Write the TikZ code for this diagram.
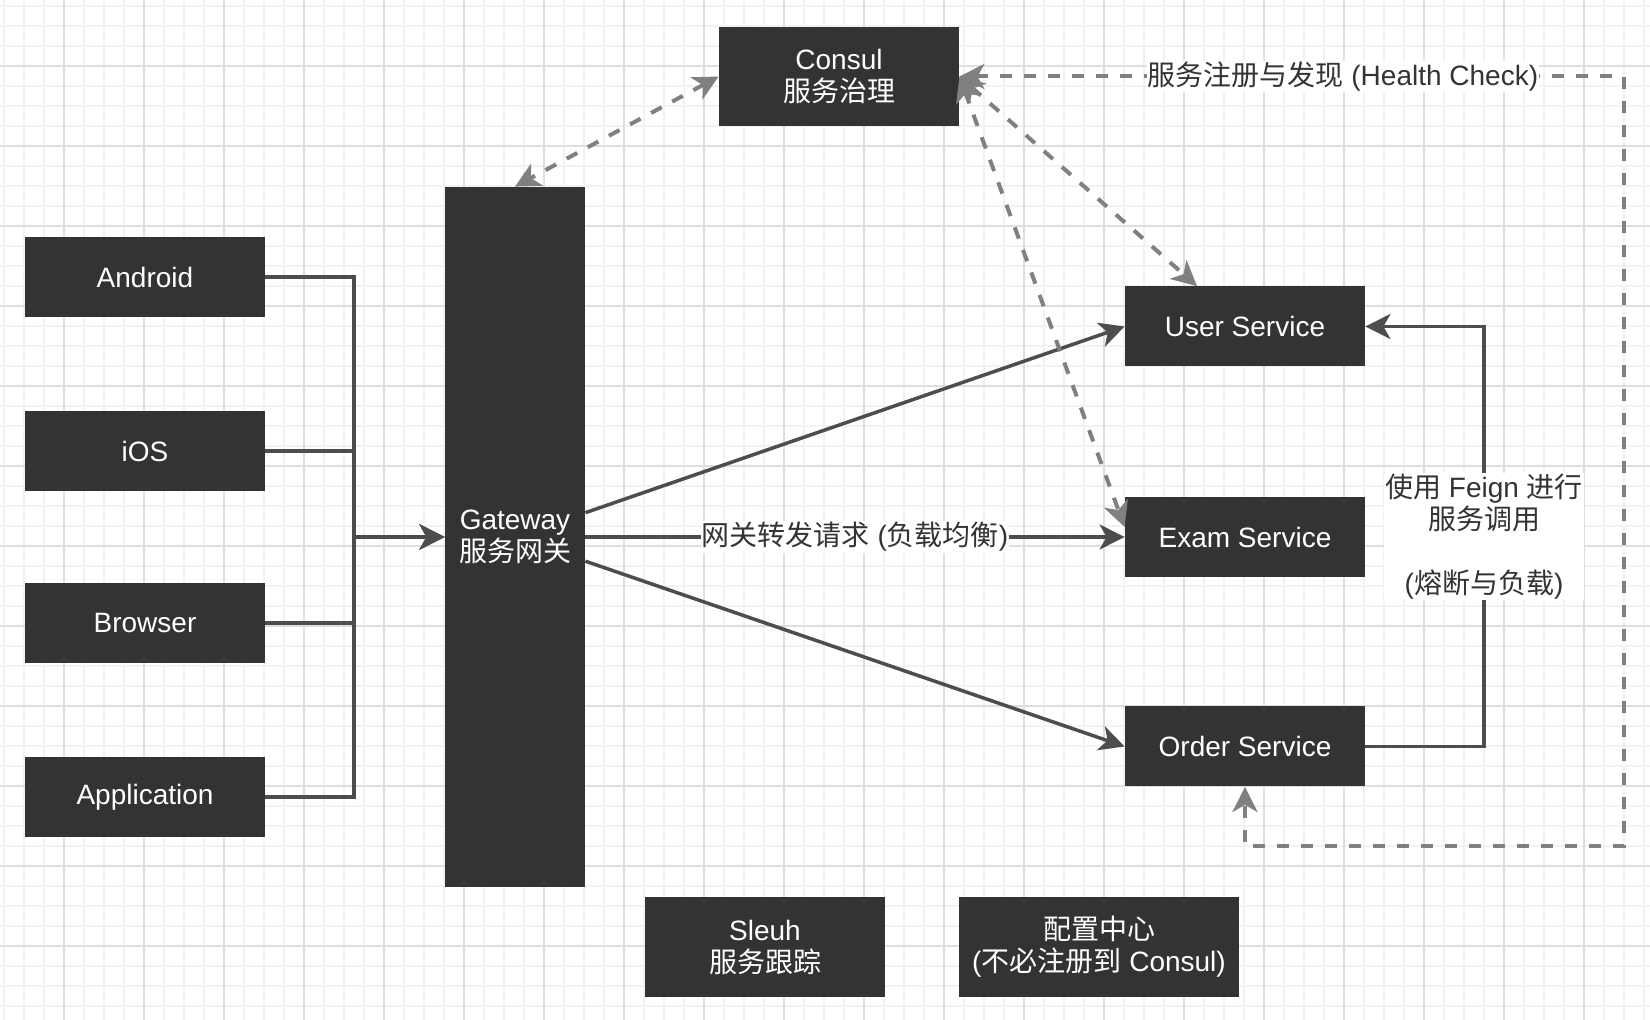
\documentclass[tikz,border=0pt]{standalone}
\usepackage{fontspec}
\setmainfont{Liberation Sans}
\newfontfamily\zhfont{Noto Sans CJK SC}
\newcommand{\zh}[1]{{\zhfont #1}}
\usetikzlibrary{arrows.meta}

\definecolor{boxfill}{HTML}{333333}
\definecolor{linkgray}{HTML}{4D4D4D}
\definecolor{dashgray}{HTML}{808080}
\definecolor{labelgray}{HTML}{333333}
\definecolor{gridmajor}{HTML}{DEDEDE}
\definecolor{gridminor}{HTML}{F2F2F2}

\tikzset{
  tip/.tip={Stealth[length=12.5pt,width=12.5pt,inset=3.5pt]},
  darkbox/.style={fill=boxfill, text=white, align=center, inner sep=0pt,
    minimum width=120pt, minimum height=40pt,
    font=\fontsize{14pt}{16pt}\selectfont},
  solidlink/.style={draw=linkgray, line width=1.75pt, -tip},
  dashlink/.style={draw=dashgray, line width=2pt, dash pattern=on 6pt off 6pt, tip-tip},
  lbl/.style={fill=white, text=labelgray, inner sep=0.5pt, align=center,
    font=\fontsize{14pt}{16pt}\selectfont},
}

\begin{document}
\begin{tikzpicture}[x=0.5pt, y=-0.5pt]
  \useasboundingbox (0,0) rectangle (1650,1020);
  \fill[white] (0,0) rectangle (1650,1020);
  % background grid
  \foreach \x in {4,24,...,1650}
    \draw[gridminor, line width=0.6pt] (\x,0) -- (\x,1020);
  \foreach \y in {6,26,...,1020}
    \draw[gridminor, line width=0.6pt] (0,\y) -- (1650,\y);
  \foreach \x in {64,144,...,1650}
    \draw[gridmajor, line width=0.6pt] (\x,0) -- (\x,1020);
  \foreach \y in {66,146,...,1020}
    \draw[gridmajor, line width=0.6pt] (0,\y) -- (1650,\y);

  % boxes
  \node[darkbox, minimum height=49.5pt] (cons) at (839,76.5) {Consul\\\zh{服务治理}};
  \node[darkbox, minimum width=70pt, minimum height=350pt] (gw) at (515,537) {Gateway\\\zh{服务网关}};
  \node[darkbox] (and) at (145,277) {Android};
  \node[darkbox] (ios) at (145,451) {iOS};
  \node[darkbox] (brw) at (145,623) {Browser};
  \node[darkbox] (app) at (145,797) {Application};
  \node[darkbox] (usr) at (1245,326.5) {User Service};
  \node[darkbox] (exm) at (1245,537) {Exam Service};
  \node[darkbox] (ord) at (1245,746.5) {Order Service};
  \node[darkbox, minimum height=50pt] (slh) at (765,947) {Sleuh\\\zh{服务跟踪}};
  \node[darkbox, minimum width=140pt, minimum height=50pt] (cfg) at (1099,947)
    {\zh{配置中心}\\(\zh{不必注册到} Consul)};

  \coordinate (hub) at (354,537);
  \coordinate (feign) at (1484,537);
  \coordinate (hc) at (1624,846);

  % clients to gateway
  \foreach \c in {and,ios,brw,app}
    \draw[solidlink] (\c.east) -| (hub) -- (gw.west);

  % gateway to services
  \draw[solidlink] (gw) -- (usr.west);
  \draw[solidlink] (gw) -- node[lbl] {\zh{网关转发请求} (\zh{负载均衡})} (exm.west);
  \draw[solidlink] (gw) -- (ord.west);

  % feign call
  \draw[solidlink] (ord.east) -- (ord.east -| feign)
    -- node[lbl] {\zh{使用} Feign \zh{进行}\\\zh{服务调用}\\[16pt](\zh{熔断与负载})} (usr.east -| feign)
    -- (usr.east);

  % consul registration
  \draw[dashlink] (cons.west) -- (gw.north);
  \draw[dashlink] (cons.east) -- ([xshift=-24pt]usr.north);
  \draw[dashlink] (cons.east) -- ([yshift=5pt]exm.west);
  \draw[dashlink] (cons.east)
    -- node[lbl, pos=0.577] {\zh{服务注册与发现} (Health Check)} (cons.east -| hc)
    -- (hc) -| (ord.south);
\end{tikzpicture}
\end{document}
